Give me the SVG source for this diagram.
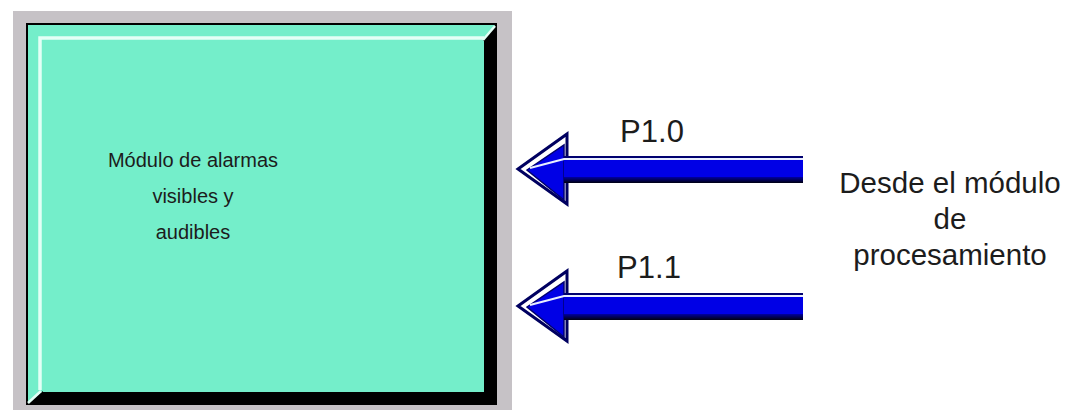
<svg xmlns="http://www.w3.org/2000/svg" width="1068" height="414" viewBox="0 0 1068 414">
<style>
.t{font-family:"Liberation Sans",Arial,sans-serif;fill:#1c1c1c;text-anchor:middle}
</style>
<defs>
<linearGradient id="sh" x1="0" y1="0" x2="0" y2="1">
<stop offset="0" stop-color="#0000a0"/>
<stop offset="1" stop-color="#000010"/>
</linearGradient>
<g id="arrow">
<polygon points="518,169 567,134 567,204" fill="#ffffff" stroke="#000060" stroke-width="3" stroke-linejoin="miter"/>
<polygon points="527,170 564,145 564,200" fill="#0000e6" stroke="#000070" stroke-width="1.5"/>
<line x1="530" y1="168" x2="566" y2="158.5" stroke="#e8eeff" stroke-width="2"/>
<rect x="564" y="156" width="239" height="2" fill="#000070"/>
<rect x="564" y="158" width="239" height="2" fill="#e8eeff"/>
<rect x="564" y="160" width="239" height="18" fill="#0000e6"/>
<rect x="564" y="177" width="239" height="6" fill="url(#sh)"/>
</g>
</defs>
<rect width="1068" height="414" fill="#ffffff"/>
<g id="module">
<rect x="13" y="11" width="499" height="399" fill="#c6c2c6"/>
<rect x="26" y="23" width="471" height="382" fill="#000000"/>
<polygon points="28,25 495,25 483,41 43,41 43,391 28,403" fill="#74eeca"/>
<rect x="43" y="41" width="441" height="351" fill="#74eeca"/>
<polyline points="40,390 40,38 484,38" fill="none" stroke="#e4fff6" stroke-width="3.5"/>
<line x1="483" y1="40" x2="495" y2="26" stroke="#e4fff6" stroke-width="2.5"/>
<line x1="41" y1="391" x2="28" y2="403" stroke="#e4fff6" stroke-width="2.5"/>
<text class="t" font-size="20" x="193" y="167">Módulo de alarmas</text>
<text class="t" font-size="20" x="193" y="203">visibles y</text>
<text class="t" font-size="20" x="193" y="239">audibles</text>
</g>
<g id="connectors">
<use href="#arrow"/>
<use href="#arrow" transform="translate(0,137)"/>
</g>
<g id="labels">
<text class="t" font-size="31" x="652" y="142">P1.0</text>
<text class="t" font-size="31" x="649" y="278">P1.1</text>
</g>
<g id="source">
<text class="t" font-size="29.5" x="950" y="193">Desde el módulo</text>
<text class="t" font-size="29.5" x="950" y="229">de</text>
<text class="t" font-size="29.5" x="950" y="265">procesamiento</text>
</g>
</svg>
